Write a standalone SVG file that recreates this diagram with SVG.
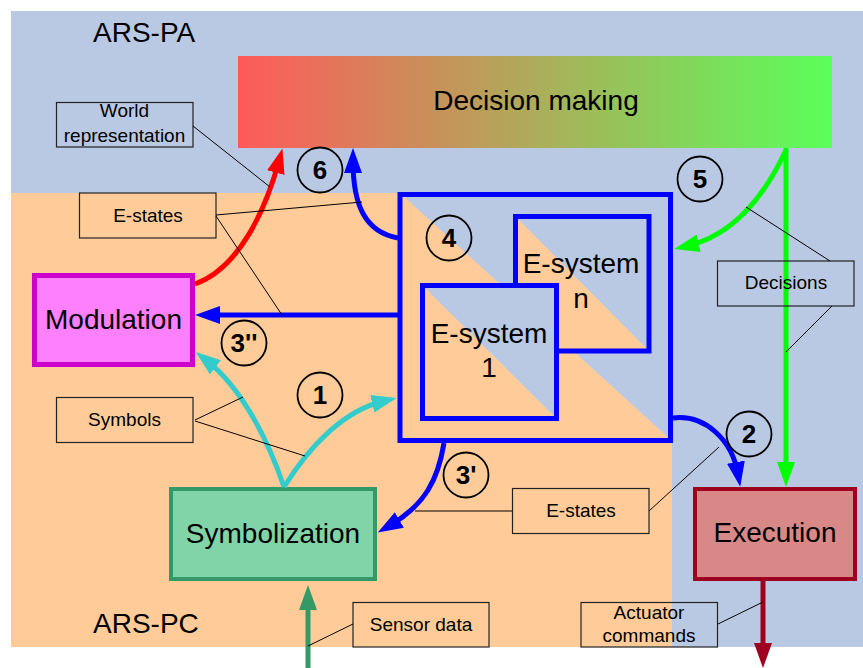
<svg xmlns="http://www.w3.org/2000/svg" width="863" height="668" viewBox="0 0 863 668">
<defs>
<linearGradient id="dmGrad" x1="0" y1="0" x2="1" y2="0">
<stop offset="0" stop-color="#ff5a5a"/>
<stop offset="1" stop-color="#5aff5a"/>
</linearGradient>
<marker id="arRed" markerUnits="userSpaceOnUse" markerWidth="25" markerHeight="18" refX="12" refY="9" orient="auto"><path d="M0,0 L25,9 L0,18 z" fill="#ff0000"/></marker>
<marker id="arBlue" markerUnits="userSpaceOnUse" markerWidth="25" markerHeight="18" refX="12" refY="9" orient="auto"><path d="M0,0 L25,9 L0,18 z" fill="#0000ff"/></marker>
<marker id="arGreen" markerUnits="userSpaceOnUse" markerWidth="25" markerHeight="18" refX="12" refY="9" orient="auto"><path d="M0,0 L25,9 L0,18 z" fill="#00ff00"/></marker>
<marker id="arCyan" markerUnits="userSpaceOnUse" markerWidth="25" markerHeight="18" refX="12" refY="9" orient="auto"><path d="M0,0 L25,9 L0,18 z" fill="#33cccc"/></marker>
<marker id="arDkGreen" markerUnits="userSpaceOnUse" markerWidth="25" markerHeight="18" refX="12" refY="9" orient="auto"><path d="M0,0 L25,9 L0,18 z" fill="#339966"/></marker>
<marker id="arDkRed" markerUnits="userSpaceOnUse" markerWidth="25" markerHeight="18" refX="12" refY="9" orient="auto"><path d="M0,0 L25,9 L0,18 z" fill="#a00020"/></marker>
</defs>
<style>
text{font-family:"Liberation Sans",Arial,sans-serif;fill:#000}
.big{font-size:28px}
.lbl{font-size:19px}
.num{font-size:26px;font-weight:bold}
.lbox{fill:none;stroke:#222;stroke-width:1.2}
.lead{fill:none;stroke:#000;stroke-width:1}
.circ{fill:none;stroke:#000;stroke-width:1.8}
.es{fill:none;stroke:#0000ff;stroke-width:5}
.bl{fill:#b9c9e3}
.or{fill:#ffcc99}
.con{fill:none;stroke-width:5}
</style>
<!-- background regions -->
<rect x="0" y="0" width="863" height="668" fill="#ffffff"/>
<rect class="bl" x="11" y="11" width="852" height="636"/>
<polygon class="or" points="11,193 400,193 672,441 672,647 11,647"/>
<text class="big" x="93" y="42">ARS-PA</text>
<text class="big" x="93" y="633">ARS-PC</text>

<g id="decision-making">
<rect x="238" y="56" width="594" height="92" fill="url(#dmGrad)"/>
<text class="big" x="536" y="110" text-anchor="middle">Decision making</text>
</g>

<g id="e-systems">
<rect x="400" y="194.5" width="270.5" height="246" class="es"/>
</g>
<g id="e-system-n">
<rect class="bl" x="515.5" y="216.5" width="133.5" height="134.5"/>
<polygon class="or" points="515.5,216.5 515.5,351 649,351"/>
<rect class="es" x="515.5" y="216.5" width="133.5" height="134.5"/>
<text class="big" x="581" y="273" text-anchor="middle">E-system</text>
<text class="big" x="581" y="308" text-anchor="middle">n</text>
</g>
<g id="e-system-1">
<rect class="bl" x="422.5" y="285.5" width="134" height="133"/>
<polygon class="or" points="422.5,285.5 422.5,418.5 556.5,418.5"/>
<rect class="es" x="422.5" y="285.5" width="134" height="133"/>
<text class="big" x="489" y="343" text-anchor="middle">E-system</text>
<text class="big" x="489" y="377" text-anchor="middle">1</text>
</g>

<g id="modulation">
<rect x="34.5" y="275.5" width="158" height="89" fill="#ff80ff" stroke="#cc00cc" stroke-width="5"/>
<text class="big" x="113.5" y="329" text-anchor="middle">Modulation</text>
</g>
<g id="symbolization">
<rect x="171" y="489" width="204" height="90" fill="#80d4a8" stroke="#339966" stroke-width="4"/>
<text class="big" x="273" y="543" text-anchor="middle">Symbolization</text>
</g>
<g id="execution">
<rect x="695" y="489" width="160" height="90" fill="#d98888" stroke="#a00020" stroke-width="4"/>
<text class="big" x="775" y="542" text-anchor="middle">Execution</text>
</g>

<g id="connectors">
<path class="con" stroke="#ff0000" d="M195,284 C240,268 266,208 279,161" marker-end="url(#arRed)"/>
<path class="con" stroke="#0000ff" d="M398,238 C365,232 353,205 353,161" marker-end="url(#arBlue)"/>
<path class="con" stroke="#0000ff" d="M398,315 L208,315" marker-end="url(#arBlue)"/>
<path class="con" stroke="#00ff00" d="M786,150 C765,195 735,235 687,246" marker-end="url(#arGreen)"/>
<path class="con" stroke="#00ff00" stroke-width="4" d="M786,148 L786,474" marker-end="url(#arGreen)"/>
<path class="con" stroke="#0000ff" d="M673,418 C705,414 732,440 738,474" marker-end="url(#arBlue)"/>
<path class="con" stroke="#0000ff" d="M444,443 C438,480 425,505 389,526" marker-end="url(#arBlue)"/>
<path class="con" stroke="#33cccc" d="M284,487 C310,445 345,410 384,401" marker-end="url(#arCyan)"/>
<path class="con" stroke="#33cccc" d="M284,487 C268,440 242,388 206,360" marker-end="url(#arCyan)"/>
<path class="con" stroke="#339966" stroke-width="4" d="M308,668 L308,598" marker-end="url(#arDkGreen)"/>
<path class="con" stroke="#a00020" stroke-width="4" d="M763,581 L763,655" marker-end="url(#arDkRed)"/>
</g>

<g id="step-numbers">
<circle class="circ" cx="320" cy="170" r="22.5"/><text class="num" x="320" y="179" text-anchor="middle">6</text>
<circle class="circ" cx="700" cy="179" r="22.5"/><text class="num" x="700" y="188" text-anchor="middle">5</text>
<circle class="circ" cx="449" cy="238" r="22.5"/><text class="num" x="449" y="247" text-anchor="middle">4</text>
<circle class="circ" cx="244" cy="343" r="22.5"/><text class="num" x="244" y="352" text-anchor="middle">3''</text>
<circle class="circ" cx="320" cy="395" r="22.5"/><text class="num" x="320" y="404" text-anchor="middle">1</text>
<circle class="circ" cx="466" cy="475" r="22.5"/><text class="num" x="466" y="484" text-anchor="middle">3'</text>
<circle class="circ" cx="749" cy="434" r="22.5"/><text class="num" x="749" y="443" text-anchor="middle">2</text>
</g>

<g id="annotations">
<g id="lbl-world">
<rect class="lbox" x="56.5" y="102.5" width="136.5" height="44.5"/>
<text class="lbl" x="124.5" y="117" text-anchor="middle">World</text>
<text class="lbl" x="124.5" y="141.5" text-anchor="middle">representation</text>
<path class="lead" d="M193,126 L270,187"/>
</g>
<g id="lbl-estates-top">
<rect class="lbox" x="79.5" y="193" width="136.5" height="45"/>
<text class="lbl" x="148" y="221.5" text-anchor="middle">E-states</text>
<path class="lead" d="M216,215 L362,202 M216,216 L282,315"/>
</g>
<g id="lbl-symbols">
<rect class="lbox" x="56.5" y="397.5" width="136.5" height="45"/>
<text class="lbl" x="124.5" y="426" text-anchor="middle">Symbols</text>
<path class="lead" d="M195,420 L243,397 M195,421 L305,456"/>
</g>
<g id="lbl-estates-bottom">
<rect class="lbox" x="512.5" y="488.5" width="136.5" height="45"/>
<text class="lbl" x="581" y="517" text-anchor="middle">E-states</text>
<path class="lead" d="M512,511 L415,511 M649,511 L719,447"/>
</g>
<g id="lbl-decisions">
<rect class="lbox" x="717.5" y="261" width="136.5" height="45"/>
<text class="lbl" x="786" y="289" text-anchor="middle">Decisions</text>
<path class="lead" d="M746,207 L830,261 M832,306 L786,352"/>
</g>
<g id="lbl-sensor">
<rect class="lbox" x="353" y="602.5" width="136" height="44.5"/>
<text class="lbl" x="421" y="631" text-anchor="middle">Sensor data</text>
<path class="lead" d="M353,624 L308,646"/>
</g>
<g id="lbl-actuator">
<rect class="lbox" x="581" y="602.5" width="136.5" height="44.5"/>
<text class="lbl" x="649" y="619" text-anchor="middle">Actuator</text>
<text class="lbl" x="649" y="641.5" text-anchor="middle">commands</text>
<path class="lead" d="M718,624 L763,602"/>
</g>
</g>
</svg>
